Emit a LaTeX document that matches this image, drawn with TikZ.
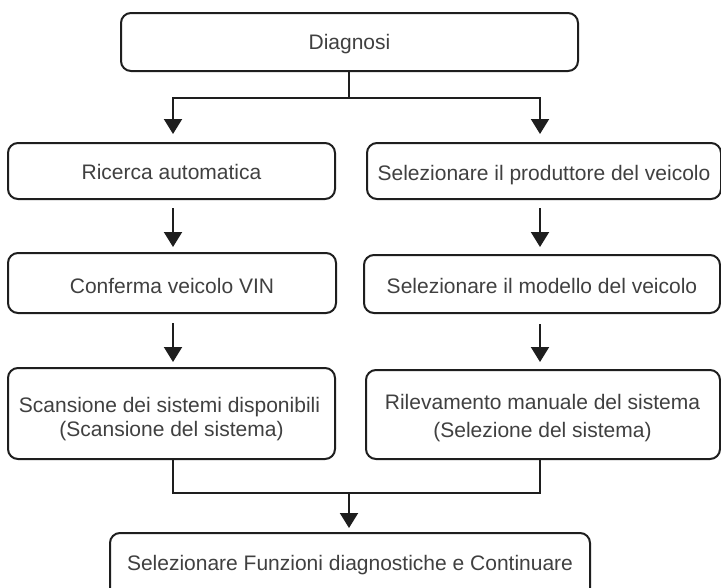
\documentclass[tikz,border=0pt]{standalone}
\usepackage{fontspec}
\setmainfont{Liberation Sans}
\usetikzlibrary{arrows.meta,calc}
\definecolor{ln}{HTML}{1E1E1E}
\definecolor{tx}{HTML}{404040}
\begin{document}
\begin{tikzpicture}[x=1pt,y=-1pt,
  box/.style={draw=ln, line width=2pt, rounded corners=10pt, inner sep=0pt},
  lbl/.style={text=tx, font=\fontsize{21}{24}\selectfont, inner sep=0pt, anchor=base},
  conn/.style={draw=ln, line width=2pt},
  arr/.style={conn, -{Triangle[length=15pt,width=18pt]}}]
\useasboundingbox (0,0) rectangle (721,587);
\clip (0,0) rectangle (721,587);
\fill[white] (0,0) rectangle (721,587);

% boxes
\node[box, minimum width=457pt, minimum height=58pt] (diag) at (349.5,42) {};
\node[box, minimum width=327pt, minimum height=56pt] (ric) at (171.5,171) {};
\node[box, minimum width=354pt, minimum height=56pt] (prod) at (544,171) {};
\node[box, minimum width=328pt, minimum height=60pt] (conf) at (172,283) {};
\node[box, minimum width=356pt, minimum height=58pt] (mod) at (542,284) {};
\node[box, minimum width=327pt, minimum height=91pt] (scan) at (171.5,413.5) {};
\node[box, minimum width=354pt, minimum height=89pt] (ril) at (543,414.5) {};
\node[box, minimum width=480pt, minimum height=66pt] (fin) at (350,566) {};

% texts
\node[lbl] (diagT) at (349.5,49.5) {Diagnosi};
\node[lbl] (ricT) at (171.5,179.5) {Ricerca automatica};
\node[lbl] (prodT) at (544,180) {Selezionare il produttore del veicolo};
\node[lbl] (confT) at (172,293) {Conferma veicolo VIN};
\node[lbl] (modT) at (542,293) {Selezionare il modello del veicolo};
\node[lbl] (scanTa) at (169.5,412) {Scansione dei sistemi disponibili};
\node[lbl] (scanTb) at (171.5,436) {(Scansione del sistema)};
\node[lbl] (rilTa) at (542.5,409) {Rilevamento manuale del sistema};
\node[lbl] (rilTb) at (542.5,437) {(Selezione del sistema)};
\node[lbl] (finT) at (350,570) {Selezionare Funzioni diagnostiche e Continuare};

% connectors
\coordinate (cL) at (173,0);
\coordinate (cR) at (540,0);
\coordinate (sp) at (349,98);
\coordinate (mg) at (349,493);

\draw[conn] (diag.south -| sp) -- (sp);
\draw[arr, shorten >=8pt] (sp) -| (ric.north -| cL);
\draw[arr, shorten >=8pt] (sp) -| (prod.north -| cR);

\draw[arr, shorten <=8pt, shorten >=5pt] (ric.south -| cL) -- (conf.north -| cL);
\draw[arr, shorten <=9pt, shorten >=5pt] (conf.south -| cL) -- (scan.north -| cL);
\draw[arr, shorten <=8pt, shorten >=7pt] (prod.south -| cR) -- (mod.north -| cR);
\draw[arr, shorten <=10pt, shorten >=7pt] (mod.south -| cR) -- (ril.north -| cR);

\draw[conn] (scan.south -| cL) |- (mg) -| (ril.south -| cR);
\draw[arr, shorten >=4pt] (mg) -- (fin.north -| mg);
\end{tikzpicture}
\end{document}
